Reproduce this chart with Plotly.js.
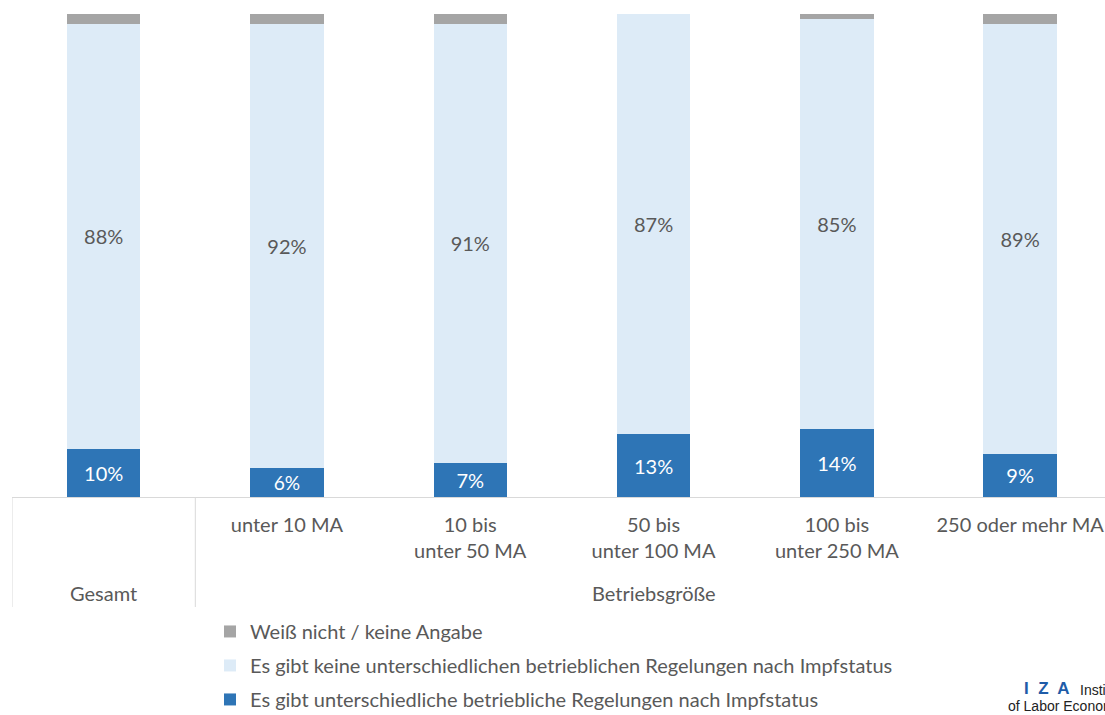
<!DOCTYPE html>
<html><head><meta charset="utf-8">
<script src="https://cdn.plot.ly/plotly-3.0.1.min.js"></script>
<style>body{margin:0;background:#fff}#chart{width:1105px;height:715px}</style>
</head><body><div id="chart"></div>
<script>
const outerCats = ["Gesamt","Betriebsgröße","Betriebsgröße","Betriebsgröße","Betriebsgröße","Betriebsgröße"];
const innerCats = ["","unter 10 MA","10 bis<br>unter 50 MA","50 bis<br>unter 100 MA","100 bis<br>unter 250 MA","250 oder mehr MA"];
const seriesNames = ["Es gibt unterschiedliche betriebliche Regelungen nach Impfstatus",
  "Es gibt keine unterschiedlichen betrieblichen Regelungen nach Impfstatus",
  "Weiß nicht / keine Angabe"];
const valsYes = [10,6,7,13,14,9];
const valsNo = [88,92,91,87,85,89];
const valsDK = [2,2,2,0,1,2];
const colors = ["#2E75B6","#DDEBF7","#A5A5A5"];
const textColors = ["#FFFFFF","#595959","#595959"];
const FONT = "Lato, 'Open Sans', sans-serif";
const FS = 20;
const idx = innerCats.map((_,i)=>i);
const allVals = [valsYes, valsNo, valsDK];
const traces = allVals.map((v,i)=>({
  type:"bar", x:idx, y:v, name:seriesNames[i], legendgroup:"g"+i, legendrank:3-i,
  marker:{color:colors[i], line:{width:0}},
  width:0.4,
  text: i<2 ? v.map(d=>d+"%") : v.map(()=>""),
  textposition: i<2 ? "inside" : "none",
  insidetextanchor:"middle",
  textangle:0,
  textfont:{family:FONT,size:FS,color:textColors[i]},
  hoverinfo:"skip"
}));
// outer group labels and dividers derived from outerCats
const groups = [];
outerCats.forEach((g,i)=>{
  const last = groups[groups.length-1];
  if(last && last.name===g){ last.end=i; } else groups.push({name:g,start:i,end:i});
});
const axisDepth = -(607-497)/483;
const shapes = [];
const annotations = [];
groups.forEach(g=>{
  shapes.push({type:"line", xref:"x", yref:"paper", x0:g.start-0.5, x1:g.start-0.5, y0:0, y1:axisDepth,
    line:{color:"#D9D9D9", width:1}});
  annotations.push({xref:"x", yref:"paper", x:(g.start+g.end)/2, y:-(593-497)/483, yanchor:"middle",
    showarrow:false, text:g.name, font:{family:FONT,size:FS,color:"#595959"}});
});
annotations.push(
  {xref:"paper",yref:"paper",x:(1022-12)/1093,y:(497-689)/483,xanchor:"left",yanchor:"middle",showarrow:false,
   text:"<b>I  Z  A</b>",font:{family:"Liberation Sans",size:17,color:"#1F5CA8"}},
  {xref:"paper",yref:"paper",x:(1078-12)/1093,y:(497-690)/483,xanchor:"left",yanchor:"middle",showarrow:false,
   text:"Institute",font:{family:"Liberation Sans",size:14,color:"#222"}},
  {xref:"paper",yref:"paper",x:(1006-12)/1093,y:(497-706)/483,xanchor:"left",yanchor:"middle",showarrow:false,
   text:"of Labor Economics",font:{family:"Liberation Sans",size:14,color:"#222"}}
);
const layout = {
  width:1105, height:715,
  margin:{l:12,r:0,t:14,b:218,autoexpand:false},
  barmode:"stack",
  paper_bgcolor:"#fff", plot_bgcolor:"#fff",
  font:{family:FONT,size:FS,color:"#595959"},
  xaxis:{range:[-0.5,5.463], showline:true, linecolor:"#D9D9D9", linewidth:1, automargin:false,
    tickmode:"array", tickvals:idx, ticktext:innerCats, ticks:"", showgrid:false, zeroline:false,
    ticklabelstandoff:10,
    tickfont:{family:FONT,size:FS,color:"#595959"}},
  yaxis:{range:[0,100], visible:false, showgrid:false, zeroline:false, automargin:false},
  showlegend:true,
  legend:{x:(210-12)/1093, xanchor:"left", y:-0.238, yanchor:"top", orientation:"v",
    traceorder:"grouped", tracegroupgap:5,
    font:{family:FONT,size:FS,color:"#595959"}, bgcolor:"rgba(0,0,0,0)"},
  shapes:shapes,
  annotations:annotations
};
Plotly.newPlot("chart", traces, layout, {displayModeBar:false, staticPlot:true});
</script></body></html>
